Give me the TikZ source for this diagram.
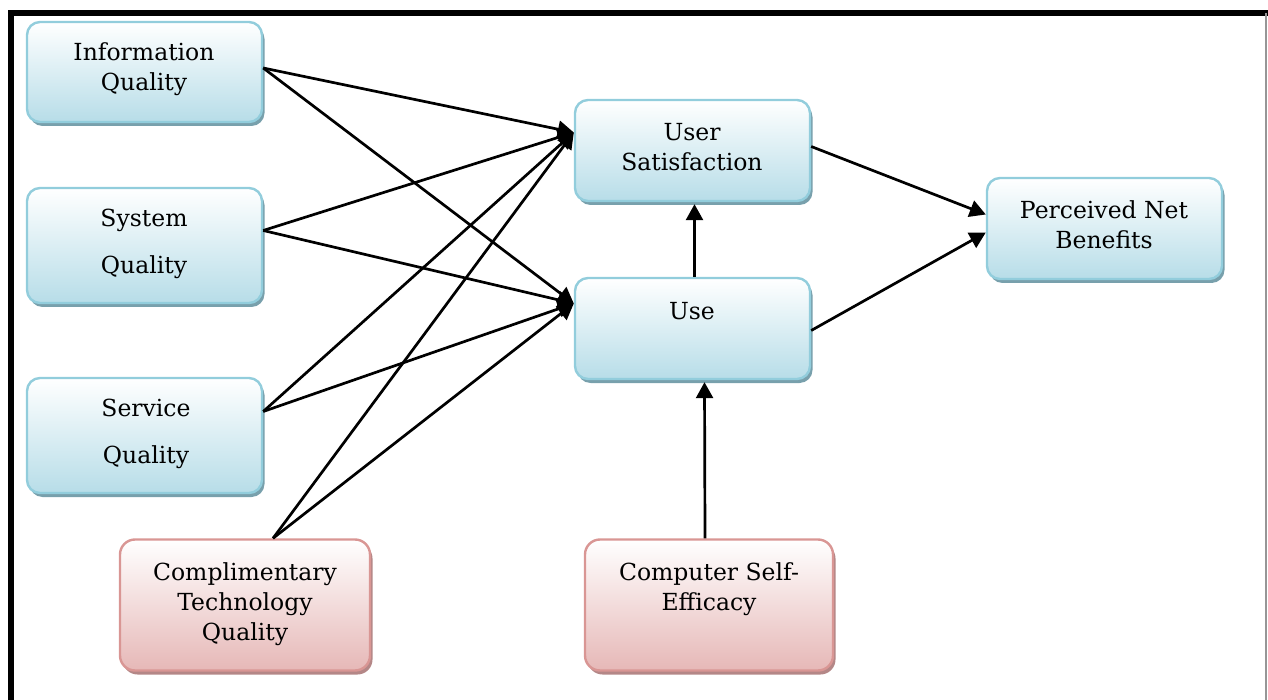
\documentclass[tikz,border=0pt]{standalone}
\usepackage{fontspec}
\setmainfont{DejaVu Serif}
\usetikzlibrary{arrows.meta,shadows,calc}
\definecolor{bborder}{RGB}{146,205,220}
\definecolor{bfill}{RGB}{183,221,232}
\definecolor{bshadow}{RGB}{120,160,172}
\definecolor{rborder}{RGB}{217,150,148}
\definecolor{rfill}{RGB}{230,184,183}
\definecolor{rshadow}{RGB}{180,135,135}
\definecolor{framegray}{RGB}{150,150,150}
\tikzset{
  bluebox/.style={draw=bborder, line width=2.4pt, rounded corners=13pt, top color=white, bottom color=bfill,
    drop shadow={shadow xshift=2.5pt, shadow yshift=-4pt, fill=bshadow, opacity=1}, inner sep=0pt},
  redbox/.style={draw=rborder, line width=2.4pt, rounded corners=15pt, top color=white, bottom color=rfill,
    drop shadow={shadow xshift=2.5pt, shadow yshift=-4pt, fill=rshadow, opacity=1}, inner sep=0pt},
  txt/.style={align=center, font=\fontsize{23.5}{30}\selectfont, inner sep=0pt},
  txtw/.style={align=center, font=\fontsize{23.5}{47}\selectfont, inner sep=0pt},
  arr/.style={line width=2.7pt, -{Triangle[length=16pt,width=17pt]}}
}
\begin{document}
\begin{tikzpicture}[x=1pt,y=-1pt]
\useasboundingbox (0,0) rectangle (1268,700);
% frame
\draw[line width=6pt] (11,700) -- (11,13) -- (1268,13);
\draw[framegray, line width=1.5pt] (1266,13) -- (1266,700);
% boxes
\node[bluebox, minimum width=235pt, minimum height=100pt] (info) at (144.5,72) {};
\node[bluebox, minimum width=235pt, minimum height=115pt] (sys) at (144.5,245.5) {};
\node[bluebox, minimum width=235pt, minimum height=115pt] (serv) at (144.5,435.5) {};
\node[redbox, minimum width=250pt, minimum height=131pt] (ctq) at (245,605) {};
\node[bluebox, minimum width=235pt, minimum height=101pt] (us) at (692.5,150.5) {};
\node[bluebox, minimum width=235pt, minimum height=101pt] (use) at (692.5,328.5) {};
\node[bluebox, minimum width=235pt, minimum height=101pt] (pnb) at (1104.5,228.5) {};
\node[redbox, minimum width=248pt, minimum height=131pt] (cse) at (709,605) {};
% texts
\node[txt] (tinfo) at (144,69) {Information\\Quality};
\node[txtw] (tsys) at (144,244) {System\\Quality};
\node[txtw] (tserv) at (146,434) {Service\\Quality};
\node[txt] (tctq) at (245,604) {Complimentary\\Technology\\Quality};
\node[txt] (tus) at (692,147) {User\\Satisfaction};
\node[txt] (tuse) at (692,311) {Use};
\node[txt] (tpnb) at (1104,225) {Perceived Net\\Benefits};
\node[txt] (tcse) at (709,589) {Computer Self-\\Efficacy};
% connectors
\draw[arr] ([yshift=4pt]info.east) -- ([yshift=18pt]us.west);
\draw[arr] ([yshift=4pt]info.east) -- ([yshift=25pt]use.west);
\draw[arr] ([yshift=15pt]sys.east) -- ([yshift=18pt]us.west);
\draw[arr] ([yshift=15pt]sys.east) -- ([yshift=25pt]use.west);
\draw[arr] ([yshift=24pt]serv.east) -- ([yshift=18pt]us.west);
\draw[arr] ([yshift=24pt]serv.east) -- ([yshift=25pt]use.west);
\draw[arr] ([xshift=28pt]ctq.north) -- ([yshift=18pt]us.west);
\draw[arr] ([xshift=28pt]ctq.north) -- ([yshift=25pt]use.west);
\draw[arr] ([xshift=2pt]use.north) -- ([xshift=2pt,yshift=-2pt]us.south);
\draw[arr] ([xshift=-4pt]cse.north) -- ([xshift=12pt,yshift=-2pt]use.south);
\draw[arr] ([yshift=4pt]us.east) -- ([yshift=14pt]pnb.west);
\draw[arr] ([yshift=-2pt]use.east) -- ([yshift=-4pt]pnb.west);
\end{tikzpicture}
\end{document}
